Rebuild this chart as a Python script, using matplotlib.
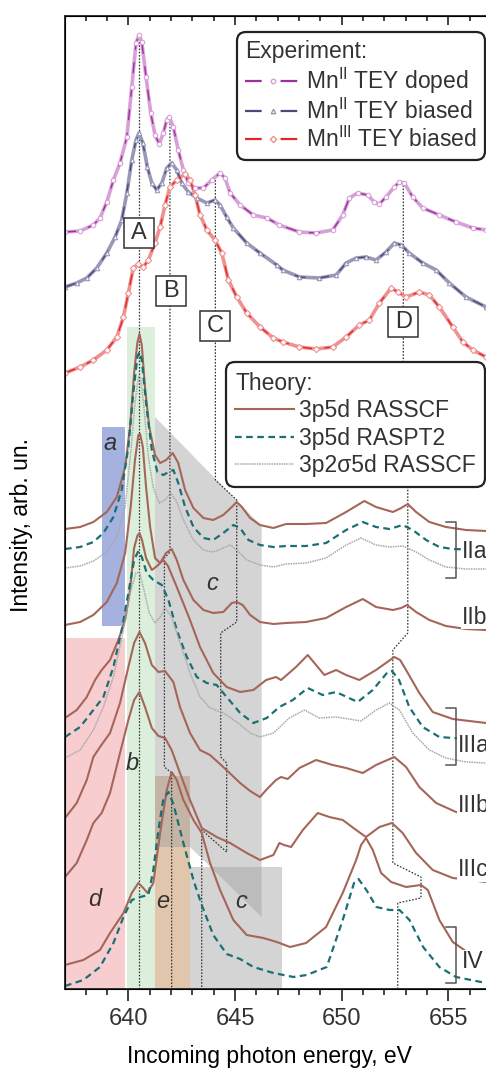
import matplotlib.pyplot as plt
from matplotlib.lines import Line2D
from matplotlib.patches import Polygon, Rectangle

plt.rcParams['font.family'] = ['Liberation Sans', 'DejaVu Sans']
plt.rcParams['mathtext.fontset'] = 'custom'
plt.rcParams['mathtext.rm'] = 'Liberation Sans'
plt.rcParams['text.color'] = '#333333'
plt.rcParams['lines.solid_joinstyle'] = 'round'
plt.rcParams['lines.dash_joinstyle'] = 'round'

# ---- experimental TEY spectra (energy in eV, intensity with vertical offsets) ----
e_doped = [637.03, 637.74, 638.36, 638.67, 638.99, 639.30, 639.61, 639.93, 640.16, 640.36,
           640.50, 640.63, 640.83, 641.05, 641.25, 641.45, 641.64, 641.80, 641.92, 642.11,
           642.34, 642.58, 642.81, 643.13, 643.52, 643.91, 644.30, 644.53, 644.77, 645.24,
           645.86, 646.49, 647.08, 648.02, 648.80, 649.58, 650.05, 650.36, 650.75, 651.22,
           651.53, 651.77, 652.08, 652.47, 652.71, 652.94, 653.33, 653.80, 654.58, 655.36,
           656.15, 656.77]
i_doped = [7.57, 7.58, 7.64, 7.71, 7.87, 8.09, 8.26, 8.52, 9.02, 9.46,
           9.54, 9.47, 9.12, 8.76, 8.54, 8.45, 8.56, 8.69, 8.72, 8.62,
           8.39, 8.19, 8.06, 8.01, 8.01, 8.09, 8.16, 8.11, 7.96, 7.84,
           7.74, 7.71, 7.64, 7.57, 7.56, 7.59, 7.74, 7.91, 7.96, 7.94,
           7.87, 7.85, 7.92, 8.02, 8.07, 8.06, 7.92, 7.81, 7.74, 7.67,
           7.61, 7.59]

e_biased = [637.03, 637.58, 638.05, 638.52, 638.99, 639.38, 639.69, 639.93, 640.16, 640.36,
            640.50, 640.68, 640.89, 641.10, 641.33, 641.57, 641.80, 642.03, 642.27, 642.50,
            642.81, 643.21, 643.68, 644.06, 644.30, 644.61, 644.92, 645.55, 646.17, 646.96,
            647.24, 648.02, 648.95, 649.74, 650.21, 650.68, 651.14, 651.61, 652.08, 652.47,
            652.79, 653.17, 653.80, 654.43, 655.05, 655.83, 656.77]
i_biased = [7.02, 7.06, 7.11, 7.21, 7.36, 7.52, 7.69, 7.96, 8.29, 8.49,
            8.56, 8.46, 8.22, 8.06, 7.99, 8.06, 8.21, 8.26, 8.19, 8.06,
            7.97, 7.91, 7.86, 7.89, 7.84, 7.72, 7.61, 7.46, 7.36, 7.24,
            7.19, 7.12, 7.11, 7.14, 7.26, 7.31, 7.32, 7.29, 7.37, 7.46,
            7.44, 7.36, 7.26, 7.19, 7.06, 6.92, 6.82]

e_mn3 = [637.03, 637.74, 638.36, 638.99, 639.46, 639.77, 640.00, 640.23, 640.47, 640.70,
         640.94, 641.25, 641.49, 641.72, 641.95, 642.27, 642.66, 642.89, 643.13, 643.36,
         643.68, 644.06, 644.38, 644.69, 645.08, 645.55, 646.17, 646.80, 647.24, 648.02,
         648.80, 649.58, 650.21, 650.83, 651.30, 651.77, 652.32, 652.63, 653.02, 653.64,
         654.11, 654.58, 655.21, 655.68, 656.15, 656.77]
i_mn3 = [6.16, 6.22, 6.29, 6.39, 6.52, 6.72, 6.96, 7.21, 7.25, 7.22,
         7.29, 7.46, 7.62, 7.84, 8.02, 8.09, 8.15, 8.09, 7.94, 7.74,
         7.59, 7.49, 7.36, 7.09, 6.92, 6.76, 6.62, 6.51, 6.47, 6.42,
         6.40, 6.42, 6.52, 6.64, 6.69, 6.86, 7.01, 6.97, 6.92, 6.97,
         6.94, 6.82, 6.62, 6.47, 6.39, 6.32]

# ---- calculated spectra ----
e_2a_ras = [637.03, 637.74, 638.36, 638.99, 639.46, 639.85, 640.08, 640.27, 640.42, 640.52,
            640.63, 640.78, 640.98, 641.25, 641.49, 641.77, 642.08, 642.34, 642.66, 643.05,
            643.52, 643.98, 644.45, 644.85, 645.08, 645.32, 645.71, 646.17, 646.80, 647.39,
            648.33, 649.27, 650.21, 651.06, 651.61, 652.40, 652.79, 653.10, 653.49, 654.11,
            654.89, 655.83, 656.77]
i_2a_ras = [4.60, 4.62, 4.67, 4.77, 4.92, 5.22, 5.62, 6.16, 6.46, 6.55,
            6.44, 6.02, 5.62, 5.34, 5.26, 5.29, 5.36, 5.26, 4.99, 4.81,
            4.71, 4.69, 4.74, 4.82, 4.87, 4.82, 4.71, 4.64, 4.61, 4.65,
            4.65, 4.66, 4.77, 4.88, 4.82, 4.77, 4.81, 4.85, 4.77, 4.67,
            4.62, 4.59, 4.58]

e_2a_pt2 = [637.03, 637.74, 638.36, 638.83, 639.30, 639.69, 640.00, 640.23, 640.42, 640.52,
            640.63, 640.83, 641.10, 641.36, 641.64, 641.88, 642.11, 642.34, 642.66, 643.05,
            643.52, 643.98, 644.45, 644.92, 645.24, 645.63, 646.17, 646.80, 647.39, 648.33,
            649.27, 650.21, 650.99, 651.61, 652.24, 652.86, 653.33, 653.96, 654.58, 655.21,
            656.77]
i_2a_pt2 = [4.40, 4.42, 4.47, 4.56, 4.72, 4.99, 5.42, 5.96, 6.32, 6.37,
            6.29, 5.86, 5.39, 5.17, 5.14, 5.17, 5.19, 5.06, 4.82, 4.62,
            4.51, 4.49, 4.56, 4.64, 4.61, 4.49, 4.44, 4.42, 4.43, 4.43,
            4.46, 4.59, 4.67, 4.62, 4.60, 4.64, 4.59, 4.49, 4.42, 4.40,
            4.39]

e_2a_sig = [637.03, 637.74, 638.36, 638.99, 639.46, 639.85, 640.11, 640.31, 640.47, 640.58,
            640.74, 640.94, 641.17, 641.45, 641.72, 641.99, 642.27, 642.58, 643.05, 643.52,
            643.98, 644.45, 644.77, 645.08, 645.55, 646.17, 646.80, 647.39, 648.33, 649.27,
            650.21, 650.91, 651.61, 652.24, 652.86, 653.49, 654.11, 654.89, 655.83, 656.77]
i_2a_sig = [4.21, 4.23, 4.28, 4.37, 4.52, 4.82, 5.36, 5.86, 6.12, 6.11,
            5.79, 5.32, 5.01, 4.86, 4.89, 4.96, 4.87, 4.69, 4.49, 4.39,
            4.37, 4.41, 4.44, 4.39, 4.29, 4.24, 4.22, 4.25, 4.26, 4.31,
            4.44, 4.51, 4.44, 4.42, 4.43, 4.37, 4.29, 4.22, 4.20, 4.20]

e_2b = [637.03, 637.74, 638.36, 638.99, 639.46, 639.85, 640.11, 640.31, 640.47, 640.55,
        640.68, 640.83, 641.02, 641.25, 641.49, 641.77, 642.03, 642.27, 642.58, 643.05,
        643.52, 643.98, 644.45, 644.85, 645.08, 645.36, 645.71, 646.17, 646.80, 647.39,
        648.33, 649.27, 650.21, 650.99, 651.61, 652.40, 652.79, 653.07, 653.49, 654.11,
        654.89, 655.83, 656.77]
i_2b = [3.64, 3.67, 3.74, 3.87, 4.06, 4.36, 4.82, 5.29, 5.54, 5.55,
        5.42, 5.02, 4.62, 4.31, 4.26, 4.36, 4.40, 4.29, 4.09, 3.89,
        3.79, 3.76, 3.77, 3.86, 3.87, 3.84, 3.74, 3.67, 3.65, 3.66,
        3.67, 3.71, 3.82, 3.90, 3.82, 3.79, 3.81, 3.84, 3.77, 3.69,
        3.63, 3.60, 3.59]

e_3a_ras = [637.03, 637.58, 638.05, 638.44, 638.75, 639.14, 639.53, 639.85, 640.08, 640.27,
            640.42, 640.52, 640.64, 640.83, 641.10, 641.35, 641.64, 641.86, 642.27, 642.89,
            643.36, 643.98, 644.61, 645.24, 645.86, 646.46, 646.92, 647.16, 647.86, 648.41,
            648.80, 649.19, 649.74, 650.21, 650.83, 651.61, 652.47, 652.74, 653.02, 653.64,
            654.27, 655.21, 656.77]
i_3a_ras = [2.71, 2.79, 2.92, 3.09, 3.19, 3.29, 3.49, 3.69, 3.99, 4.41,
            4.53, 4.56, 4.49, 4.31, 4.19, 4.23, 4.29, 4.23, 4.02, 3.69,
            3.42, 3.16, 3.02, 2.97, 2.99, 3.09, 3.12, 3.09, 3.22, 3.34,
            3.24, 3.14, 3.19, 3.14, 3.09, 3.19, 3.32, 3.29, 3.19, 2.96,
            2.77, 2.70, 2.66]

e_3a_pt2 = [637.03, 637.74, 638.36, 638.83, 639.30, 639.69, 640.00, 640.27, 640.47, 640.63,
            640.86, 641.17, 641.57, 641.88, 642.27, 642.74, 643.21, 643.68, 644.14, 644.61,
            645.24, 645.86, 646.49, 647.08, 647.71, 648.41, 649.11, 649.74, 650.75, 651.46,
            652.16, 652.36, 652.69, 653.17, 653.80, 654.58, 655.21, 656.77]
i_3a_pt2 = [2.52, 2.62, 2.79, 2.92, 3.22, 3.59, 3.96, 4.29, 4.38, 4.32,
            4.16, 4.09, 4.04, 3.89, 3.59, 3.32, 3.12, 3.06, 3.04, 2.92,
            2.76, 2.66, 2.71, 2.82, 2.89, 3.01, 2.94, 2.97, 2.87, 2.99,
            3.17, 3.18, 3.09, 2.82, 2.62, 2.52, 2.51, 2.49]

e_3a_sig = [637.03, 637.74, 638.36, 638.83, 639.30, 639.77, 640.08, 640.36, 640.52, 640.70,
            640.98, 641.25, 641.49, 641.72, 642.03, 642.42, 642.89, 643.36, 643.83, 644.45,
            645.08, 645.71, 646.17, 646.80, 647.55, 648.25, 648.95, 649.74, 650.91, 651.61,
            652.24, 652.71, 653.33, 654.11, 654.89, 655.83, 656.77]
i_3a_sig = [2.31, 2.39, 2.59, 2.82, 3.12, 3.59, 3.96, 4.16, 4.17, 4.02,
            3.76, 3.66, 3.72, 3.81, 3.72, 3.46, 3.16, 2.92, 2.81, 2.76,
            2.67, 2.56, 2.52, 2.56, 2.71, 2.79, 2.71, 2.72, 2.68, 2.79,
            2.86, 2.79, 2.56, 2.39, 2.31, 2.27, 2.26]

e_3b = [637.03, 637.58, 638.05, 638.36, 638.67, 639.14, 639.61, 640.00, 640.27, 640.52,
        640.78, 641.10, 641.41, 641.72, 642.11, 642.42, 642.89, 643.36, 643.83, 644.45,
        645.24, 645.71, 646.17, 646.46, 646.92, 647.16, 647.47, 648.02, 648.80, 649.58,
        650.21, 650.99, 651.61, 652.47, 653.02, 653.64, 654.43, 655.36, 656.77]
i_3b = [1.71, 1.86, 2.09, 2.32, 2.42, 2.56, 2.86, 3.22, 3.46, 3.57,
        3.46, 3.24, 3.17, 3.18, 3.07, 2.82, 2.56, 2.39, 2.34, 2.22,
        2.06, 1.98, 1.92, 1.99, 2.09, 2.12, 2.10, 2.21, 2.29, 2.24,
        2.21, 2.16, 2.24, 2.32, 2.22, 2.02, 1.86, 1.77, 1.74]

e_3c = [637.03, 637.58, 638.05, 638.36, 638.75, 639.14, 639.61, 640.00, 640.27, 640.52,
        640.78, 641.10, 641.41, 641.72, 642.03, 642.42, 642.89, 643.44, 644.14, 644.77,
        645.55, 646.17, 646.80, 647.08, 647.30, 647.63, 648.18, 648.88, 649.42, 650.05,
        650.68, 651.14, 651.77, 652.36, 652.86, 653.49, 654.27, 655.21, 656.77]
i_3c = [1.12, 1.26, 1.49, 1.66, 1.76, 1.96, 2.36, 2.69, 2.89, 2.97,
        2.82, 2.61, 2.53, 2.51, 2.39, 2.16, 1.89, 1.61, 1.52, 1.46,
        1.36, 1.29, 1.34, 1.46, 1.44, 1.42, 1.59, 1.76, 1.72, 1.69,
        1.59, 1.52, 1.62, 1.66, 1.56, 1.36, 1.19, 1.11, 1.07]

e_4_ras = [637.03, 637.89, 638.67, 639.14, 639.77, 640.16, 640.47, 640.70, 640.90, 641.17,
           641.49, 641.80, 642.03, 642.27, 642.58, 643.05, 643.44, 643.83, 644.30, 644.92,
           645.55, 646.33, 646.96, 647.58, 648.33, 649.27, 650.05, 650.68, 650.91, 651.14,
           651.46, 651.85, 652.32, 653.02, 653.72, 654.04, 654.58, 655.21, 655.75]
i_4_ras = [0.24, 0.29, 0.39, 0.56, 0.76, 0.96, 1.06, 1.01, 0.96, 1.06,
           1.56, 1.99, 2.17, 2.09, 1.89, 1.69, 1.56, 1.26, 0.99, 0.69,
           0.54, 0.51, 0.47, 0.42, 0.46, 0.62, 0.96, 1.29, 1.44, 1.51,
           1.39, 1.16, 1.07, 1.02, 1.04, 0.99, 0.69, 0.47, 0.39]

e_4_pt2 = [637.03, 637.89, 638.67, 639.30, 639.77, 640.16, 640.55, 640.94, 641.17, 641.41,
           641.64, 641.88, 642.11, 642.58, 643.05, 643.44, 643.98, 644.61, 645.24, 645.86,
           646.80, 647.74, 648.36, 649.30, 650.05, 650.58, 650.79, 651.16, 651.63, 652.25,
           652.71, 653.18, 653.82, 654.58, 655.36, 656.77]
i_4_pt2 = [0.03, 0.09, 0.22, 0.46, 0.72, 0.89, 0.92, 0.94, 1.19, 1.59,
           1.90, 1.97, 1.85, 1.46, 1.09, 0.84, 0.54, 0.35, 0.30, 0.22,
           0.16, 0.12, 0.14, 0.22, 0.69, 1.06, 1.10, 0.99, 0.82, 0.79,
           0.79, 0.69, 0.42, 0.22, 0.12, 0.06]

# ---- shaded energy windows ----
band_a = (638.77, 639.85, 3.63, 5.62)
band_d = (637.03, 639.85, 0.0, 3.51)
band_b = (639.92, 641.25, 0.0, 6.62)
band_e = (641.25, 642.89, 0.0, 2.13)
band_c_low = (642.89, 647.20, 0.0, 1.22)
c_upper_e = [641.25, 646.25, 646.25, 642.89, 641.25]
c_upper_i = [5.72, 4.63, 0.72, 1.42, 1.42]

# ---- peak-following guide lines A-D ----
guide_A_e = [640.50, 640.50]
guide_A_i = [9.54, 0.0]
guide_B_e = [641.95, 641.95, 641.69, 641.69, 642.03, 642.03]
guide_B_i = [8.72, 4.37, 4.31, 2.22, 2.16, 0.0]
guide_C_e = [644.08, 644.08, 645.08, 645.08, 644.33, 644.33, 644.61, 644.61, 643.44, 643.44]
guide_C_i = [8.09, 5.09, 4.89, 3.67, 3.56, 2.32, 2.26, 1.37, 1.59, 0.0]
guide_D_e = [652.89, 652.89, 653.10, 653.10, 652.40, 652.40, 653.72, 653.72, 652.63, 652.63]
guide_D_i = [8.07, 5.69, 5.59, 3.56, 3.39, 1.26, 1.12, 0.91, 0.86, 0.0]

feature_labels = ['A', 'B', 'C', 'D']
feature_e = [640.50, 642.00, 644.08, 652.89]
feature_i = [7.56, 6.98, 6.63, 6.67]

region_labels = ['a', 'c', 'b', 'd', 'e', 'c']
region_e = [639.14, 643.91, 640.16, 638.44, 641.59, 645.28]
region_i = [5.46, 4.06, 2.26, 0.89, 0.87, 0.87]

model_labels = ['IIa', 'IIb', 'IIIa', 'IIIb', 'IIIc', 'IV']
model_e = [655.64, 655.64, 655.44, 655.44, 655.44, 655.64]
model_i = [4.37, 3.72, 2.44, 1.84, 1.19, 0.27]
bracket_i = [(4.67, 4.11), (2.81, 2.24), (0.62, 0.06)]

fig = plt.figure(figsize=(4.86, 10.72), dpi=100)
ax = fig.add_axes([65 / 486, 83 / 1072, 447.3 / 486, 973 / 1072])
ax.set_xlim(637.03, 658.0)
ax.set_ylim(0, 9.73)

# shaded windows
for x0, x1, y0, y1, col, a in [(*band_d, '#f8cdd0', 1.0), (*band_a, '#a5b1df', 1.0),
                               (*band_b, '#dcefdc', 1.0), (*band_e, '#c99868', 0.55),
                               (*band_c_low, '#a0a0a0', 0.45)]:
    ax.add_patch(Rectangle((x0, y0), x1 - x0, y1 - y0, facecolor=col, alpha=a,
                           edgecolor='none', zorder=1))
ax.add_patch(Polygon(list(zip(c_upper_e, c_upper_i)), closed=True, facecolor='#a0a0a0',
                     alpha=0.45, edgecolor='none', zorder=1))

# guide lines
for ge, gi in [(guide_A_e, guide_A_i), (guide_B_e, guide_B_i),
               (guide_C_e, guide_C_i), (guide_D_e, guide_D_i)]:
    ax.plot(ge, gi, color='#333333', lw=0.9, ls=(0, (1.3, 1.3)), zorder=2)


def plot_exp(e, i, dark, light, mk):
    ax.plot(e, i, color=light, lw=2.6, zorder=3)
    ax.plot(e, i, color=dark, lw=1.0, ls=(0, (8, 9)), zorder=4)
    ax.plot(e, i, ls='none', marker=mk, ms=3.2, mfc='white', mec=light, mew=0.8, zorder=5)


plot_exp(e_doped, i_doped, '#9b309b', '#d8a0d8', 'o')
plot_exp(e_biased, i_biased, '#4a4a78', '#9898b8', '^')
plot_exp(e_mn3, i_mn3, '#e02828', '#f09090', 'D')

brown, teal, grey = '#a5665a', '#1b6f74', '#a8a8a8'
ras_kw = dict(color=brown, lw=1.5, zorder=4)
pt2_kw = dict(color=teal, lw=1.6, ls=(0, (3, 2)), zorder=4)
sig_kw = dict(color=grey, lw=1.1, ls=(0, (1, 0.6)), zorder=4)

for e, i in [(e_2a_ras, i_2a_ras), (e_2b, i_2b), (e_3a_ras, i_3a_ras),
             (e_3b, i_3b), (e_3c, i_3c), (e_4_ras, i_4_ras)]:
    ax.plot(e, i, **ras_kw)
for e, i in [(e_2a_pt2, i_2a_pt2), (e_3a_pt2, i_3a_pt2), (e_4_pt2, i_4_pt2)]:
    ax.plot(e, i, **pt2_kw)
for e, i in [(e_2a_sig, i_2a_sig), (e_3a_sig, i_3a_sig)]:
    ax.plot(e, i, **sig_kw)

# boxed feature letters
ax.plot(feature_e, feature_i, ls='none', marker='s', ms=21.5, mfc='white', mec='#333333',
        mew=1.1, zorder=6)
for lab, x, y in zip(feature_labels, feature_e, feature_i):
    ax.text(x, y, lab, ha='center', va='center', fontsize=17, zorder=7)

for lab, x, y in zip(region_labels, region_e, region_i):
    ax.text(x, y, lab, ha='center', va='center', fontsize=17, style='italic', zorder=7)

for lab, x, y in zip(model_labels, model_e, model_i):
    ax.text(x, y, lab, ha='left', va='center', fontsize=16.5, zorder=7,
            bbox=dict(facecolor='white', edgecolor='none', pad=0.5))
for top, bot in bracket_i:
    ax.plot([654.89, 655.36, 655.36, 654.89], [top, top, bot, bot], color='#555555',
            lw=1.1, zorder=8)

# axes styling
for s in ax.spines.values():
    s.set_linewidth(1.4)
    s.set_color('#333333')
ax.set_yticks([])
ax.set_xticks([640, 645, 650, 655])
ax.set_xticks(range(638, 658), minor=True)
ax.tick_params(axis='x', which='major', direction='out', length=8.5, width=1.3,
               labelsize=17, pad=5.5, colors='#333333')
ax.tick_params(axis='x', which='minor', direction='out', length=4.5, width=1.3, colors='#333333')
top = ax.twiny()
top.set_xlim(ax.get_xlim())
top.set_xticks([640, 645, 650, 655])
top.set_xticks(range(638, 658), minor=True)
top.tick_params(axis='x', which='major', direction='in', length=6.5, width=1.3,
                labeltop=False, colors='#333333')
top.tick_params(axis='x', which='minor', direction='in', length=3.8, width=1.3, colors='#333333')
top.set_yticks([])

ax.set_xlabel('Incoming photon energy, eV', fontsize=16.5)
ax.xaxis.set_label_coords(204 / 447.3, -0.0575)
ax.set_ylabel('Intensity, arb. un.', fontsize=16.5)
ax.yaxis.set_label_coords(-32 / 447.3, 0.477)

# legends
sup = r'$^{\mathregular{%s}}$'
exp_handles = [
    Line2D([], [], color='#9b309b', lw=1.6, ls=(0, (7.5, 8.5)), marker='o', ms=3.2, mfc='white', mec='#d8a0d8'),
    Line2D([], [], color='#4a4a78', lw=1.6, ls=(0, (7.5, 8.5)), marker='^', ms=3.2, mfc='white', mec='#9898b8'),
    Line2D([], [], color='#e02828', lw=1.6, ls=(0, (7.5, 8.5)), marker='D', ms=3.2, mfc='white', mec='#f09090'),
]
exp_labels = ['Mn' + sup % 'II' + ' TEY doped', 'Mn' + sup % 'II' + ' TEY biased',
              'Mn' + sup % 'III' + ' TEY biased']
leg1 = ax.legend(exp_handles, exp_labels, title='Experiment:', loc='upper right',
                 bbox_to_anchor=(485 / 486, 1 - 32 / 1072), bbox_transform=fig.transFigure,
                 fontsize=16.5, title_fontsize=16.5, alignment='left', numpoints=1,
                 handlelength=2.45, handletextpad=0.22, labelspacing=0.12, borderpad=0.36,
                 borderaxespad=0, framealpha=1, edgecolor='#222222', fancybox=True)
leg1.get_frame().set_linewidth(1.6)
leg1.get_frame().set_boxstyle('round,pad=0,rounding_size=0.4')
leg1.set_zorder(10)
ax.add_artist(leg1)

th_handles = [Line2D([], [], **ras_kw), Line2D([], [], **pt2_kw), Line2D([], [], **sig_kw)]
th_labels = ['3p5d RASSCF', '3p5d RASPT2', '3p2\u03c35d RASSCF']
leg2 = ax.legend(th_handles, th_labels, title='Theory:', loc='upper right',
                 bbox_to_anchor=(485 / 486, 1 - 362 / 1072), bbox_transform=fig.transFigure,
                 fontsize=16.5, title_fontsize=16.5, alignment='left',
                 handlelength=2.55, handletextpad=0.22, labelspacing=0.2, borderpad=0.42,
                 borderaxespad=0, framealpha=1, edgecolor='#222222', fancybox=True)
leg2.get_frame().set_linewidth(1.6)
leg2.get_frame().set_boxstyle('round,pad=0,rounding_size=0.4')
leg2.set_zorder(10)

fig.savefig('out.png', dpi=100)
